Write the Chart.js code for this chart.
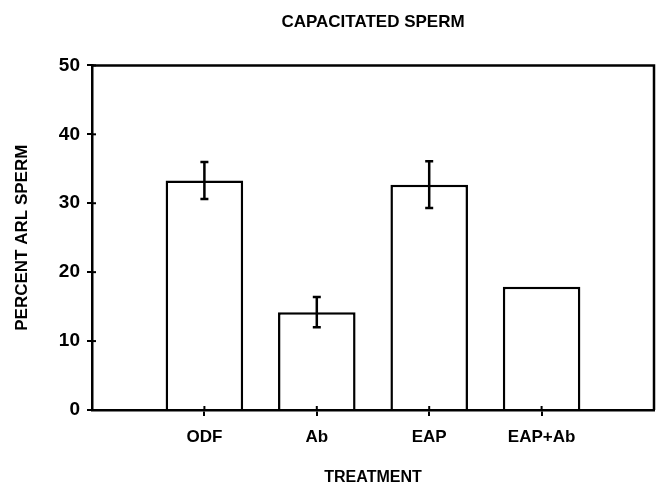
<!DOCTYPE html>
<html>
<head>
<meta charset="utf-8">
<script src="https://cdn.jsdelivr.net/npm/chart.js@4/dist/chart.umd.min.js"></script>
<style>
  html, body { margin: 0; padding: 0; background: #fff; }
  #wrap { width: 656px; height: 488px; }
</style>
</head>
<body>
<div id="wrap"><canvas id="c" width="656" height="488"></canvas></div>
<script>
// values
const categories = ['ODF', 'Ab', 'EAP', 'EAP+Ab'];
const percentArl = [33.3, 14.2, 32.7, 17.9];
const errorBars = [2.7, 2.2, 3.4, 0];
const yMin = 0, yMax = 50, yStep = 10;

// empty slots either side so the categories sit at 1..4 of a 0..5 axis
const labels = [''].concat(categories, ['']);
const barData = [null].concat(percentArl, [null]);
const errData = [null].concat(errorBars, [null]);

const FONT = 'Liberation Sans, Arial, sans-serif';

const decor = {
  id: 'decor',
  afterDatasetsDraw(chart) {
    const ctx = chart.ctx;
    const a = chart.chartArea;
    const x = chart.scales.x, y = chart.scales.y;
    ctx.save();
    ctx.strokeStyle = '#000';
    ctx.lineWidth = 2.5;
    // frame top and right
    ctx.beginPath();
    ctx.moveTo(a.left, a.top);
    ctx.lineTo(a.right, a.top);
    ctx.lineTo(a.right, a.bottom);
    ctx.stroke();
    // inner half of the tick marks
    ctx.lineWidth = 2;
    for (let v = yMin + yStep; v <= yMax; v += yStep) {
      const py = y.getPixelForValue(v);
      ctx.beginPath();
      ctx.moveTo(a.left, py);
      ctx.lineTo(a.left + 4, py);
      ctx.stroke();
    }
    categories.forEach((c, i) => {
      const px = x.getPixelForValue(i + 1);
      ctx.beginPath();
      ctx.moveTo(px, a.bottom);
      ctx.lineTo(px, a.bottom - 4);
      ctx.stroke();
    });
    // error bars
    ctx.lineWidth = 2.5;
    errData.forEach((e, i) => {
      if (!e) return;
      const px = x.getPixelForValue(i);
      const hi = y.getPixelForValue(barData[i] + e);
      const lo = y.getPixelForValue(barData[i] - e);
      ctx.beginPath();
      ctx.moveTo(px, hi); ctx.lineTo(px, lo);
      ctx.moveTo(px - 4, hi); ctx.lineTo(px + 4, hi);
      ctx.moveTo(px - 4, lo); ctx.lineTo(px + 4, lo);
      ctx.stroke();
    });
    ctx.restore();
  }
};

new Chart(document.getElementById('c'), {
  type: 'bar',
  data: {
    labels: labels,
    datasets: [{
      data: barData,
      backgroundColor: '#fff',
      borderColor: '#000',
      borderWidth: 2.5,
      barPercentage: 0.69,
      categoryPercentage: 1
    }]
  },
  options: {
    responsive: false,
    animation: false,
    layout: { padding: { left: 0, right: 2, top: 0, bottom: 0 } },
    plugins: {
      legend: { display: false },
      tooltip: { enabled: false },
      title: {
        display: true,
        fullSize: false,
        text: 'CAPACITATED SPERM',
        color: '#000',
        font: { family: FONT, size: 17, weight: 'bold', lineHeight: 1.2 },
        padding: { top: 12, bottom: 33 }
      }
    },
    scales: {
      x: {
        offset: false,
        grid: {
          offset: false,
          drawOnChartArea: false,
          tickLength: 6,
          lineWidth: 2,
          color: c => (c.tick && c.tick.label) ? '#000' : 'rgba(0,0,0,0)'
        },
        border: { color: '#000', width: 2.5 },
        ticks: {
          color: '#000',
          padding: 11,
          maxRotation: 0,
          autoSkip: false,
          font: { family: FONT, size: 17, weight: 'bold' }
        },
        title: {
          display: true,
          text: 'TREATMENT',
          color: '#000',
          font: { family: FONT, size: 16, weight: 'bold', lineHeight: 1.2 },
          padding: { top: 1, bottom: 1 }
        },
        afterFit(s) {
          s.height = 78;
          s.paddingLeft = 0;
          s.paddingRight = 0;
        }
      },
      y: {
        min: yMin,
        max: yMax,
        grid: {
          drawOnChartArea: false,
          tickLength: 5,
          lineWidth: 2,
          color: '#000'
        },
        border: { color: '#000', width: 2.5 },
        ticks: {
          stepSize: yStep,
          color: '#000',
          padding: 7,
          font: { family: FONT, size: 19, weight: 'bold' }
        },
        title: {
          display: true,
          text: 'PERCENT ARL SPERM',
          color: '#000',
          font: { family: FONT, size: 17, weight: 'bold', lineHeight: 1.2 },
          padding: { top: 12, bottom: 0 }
        },
        afterFit(s) { s.width = 92; }
      }
    }
  },
  plugins: [decor]
});
</script>
</body>
</html>
